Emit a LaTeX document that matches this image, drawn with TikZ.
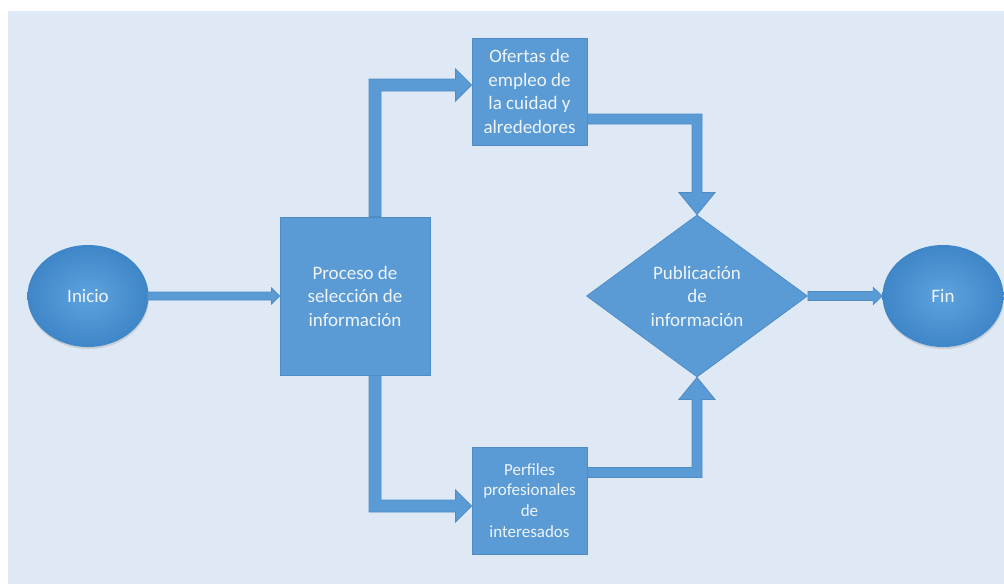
\documentclass[tikz,border=0pt]{standalone}
\usepackage{fontspec}
\setmainfont{Carlito}
\usetikzlibrary{shapes.geometric,calc,shadows}
\definecolor{bg}{HTML}{DEE9F5}
\definecolor{boxfill}{HTML}{5B9BD5}
\definecolor{boxline}{HTML}{4F8CC6}
\definecolor{txt}{HTML}{EEF4FA}
\definecolor{ellin}{HTML}{5EA3DE}
\definecolor{ellout}{HTML}{3F86C8}
\tikzset{
  box/.style={rectangle, fill=boxfill, draw=boxline, line width=0.8pt, text=txt, align=center, inner sep=0pt, font=\fontsize{19}{23.5}\selectfont},
  small/.style={font=\fontsize{17}{20.7}\selectfont},
  term/.style={ellipse, minimum width=121pt, minimum height=102pt, inner sep=0pt, shading=radial, inner color=ellin, outer color=ellout, text=txt, font=\fontsize{19}{23.5}\selectfont, drop shadow={opacity=0.25, shadow xshift=0.5pt, shadow yshift=-2pt}},
  decis/.style={diamond, fill=boxfill, draw=boxline, line width=0.8pt, text=txt, align=center, inner sep=0pt, minimum width=221pt, minimum height=162pt, font=\fontsize{19}{23.5}\selectfont},
  arr/.style={fill=boxfill, draw=boxline, line width=0.8pt, line join=miter},
}
\begin{document}
\begin{tikzpicture}[x=1pt,y=-1pt]
\useasboundingbox (0,0) rectangle (1004,584);
\fill[bg] (8,11) rectangle (1004,584);
% nodes
\node[box, minimum width=150pt, minimum height=158pt] (proc) at (355,296) {Proceso de\\selección de\\información};
\node[box, minimum width=115pt, minimum height=107pt] (of) at (529.5,91.5) {Ofertas de\\empleo de\\la cuidad y\\alrededores};
\node[box, small, minimum width=115pt, minimum height=107pt] (per) at (529.5,500.5) {Perfiles\\profesionales\\de\\interesados};
\node[decis] (pub) at (697,296) {Publicación\\de\\información};
% connectors
\coordinate (a1) at ($(proc.north)+(20,0)$);
\coordinate (t1) at ($(of.west)+(0,-6.5)$);
\coordinate (a2) at ($(proc.south)+(20,0)$);
\coordinate (t2) at ($(per.west)+(0,5.5)$);
\coordinate (s2) at ($(of.east)+(0,27.5)$);
\coordinate (s3) at ($(per.east)+(0,-28)$);
\fill[arr] ($(a1)+(-6,0)$) |- ($(t1)+(-16,-6)$) -- ++(0,-10) -- (t1) -- ++(-16,16) -- ++(0,-10) -| ($(a1)+(6,0)$) -- cycle;
\fill[arr] ($(a2)+(-6,0)$) |- ($(t2)+(-16,6)$) -- ++(0,10) -- (t2) -- ++(-16,-16) -- ++(0,10) -| ($(a2)+(6,0)$) -- cycle;
\fill[arr] ($(s2)+(0,-5)$) -| ($(pub.north)+(5,-22)$) -- ++(13,0) -- (pub.north) -- ++(-18,-22) -- ++(13,0) |- ($(s2)+(0,5)$) -- cycle;
\fill[arr] ($(s3)+(0,5)$) -| ($(pub.south)+(5,22)$) -- ++(13,0) -- (pub.south) -- ++(-18,22) -- ++(13,0) |- ($(s3)+(0,-5)$) -- cycle;
% terminals
\node[term] (ini) at (88,296) {Inicio};
\node[term] (fin) at (943,296) {Fin};
\fill[arr] ($(ini.east)+(-1,-4)$) -- ($(proc.west)+(-8,-4)$) -- ++(0,-4) -- (proc.west) -- ++(-8,8) -- ++(0,-4) -- ($(ini.east)+(-1,4)$) -- cycle;
\fill[arr] ($(pub.east)+(0,-4.5)$) -- ($(fin.west)+(-9,-4.5)$) -- ++(0,-4) -- (fin.west) -- ++(-9,8.5) -- ++(0,-4) -- ($(pub.east)+(0,4.5)$) -- cycle;
\end{tikzpicture}
\end{document}
